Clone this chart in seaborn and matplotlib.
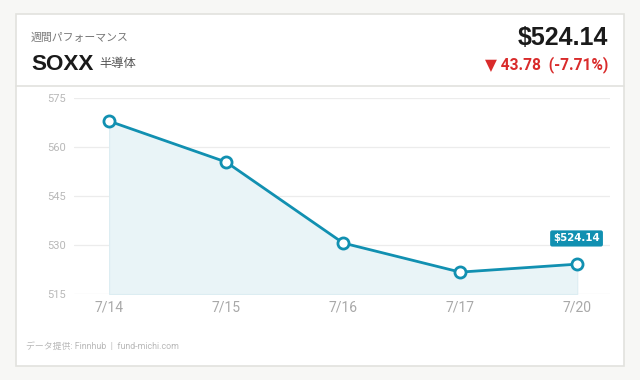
import matplotlib
matplotlib.use("Agg")
import matplotlib.pyplot as plt
from matplotlib.patches import Rectangle
from matplotlib.lines import Line2D
import seaborn as sns
import pandas as pd

dates = ["7/14", "7/15", "7/16", "7/17", "7/20"]
prices = [567.92, 555.4, 530.6, 521.7, 524.14]
y_ticks = [515, 530, 545, 560, 575]
ticker = "SOXX"
sector = "半導体"
subtitle = "週間パフォーマンス"
last_price = "$524.14"
change_text = "▼ 43.78  (-7.71%)"
footer = "データ提供: Finnhub  |  fund-michi.com"

sns.set_style("white")
plt.rcParams['font.family'] = ['Roboto', 'Noto Sans CJK JP', 'DejaVu Sans']

W, H = 640, 380
fig = plt.figure(figsize=(6.4, 3.8), dpi=100)
fig.patch.set_facecolor("#f7f7f5")

def fx(px):
    return px / W

def fy(py):
    return 1 - py / H

# card
fig.patches.append(Rectangle((fx(16), fy(366)), fx(608), (366 - 14) / H,
                             transform=fig.transFigure, facecolor="white",
                             edgecolor="#e2e2de", linewidth=1.2, zorder=-10))
fig.lines.append(Line2D([fx(16), fx(624)], [fy(86), fy(86)], transform=fig.transFigure,
                        color="#e2e2de", linewidth=1.2, zorder=-5))

teal = "#1190b1"
df = pd.DataFrame({"x": range(len(dates)), "price": prices})

ax = fig.add_axes([fx(74), fy(294), fx(610 - 74), (294 - 98) / H])
ax.set_zorder(5)
ax.set_facecolor("none")
ax.patch.set_alpha(0)
ax.fill_between(df["x"], df["price"], 515, color="#e9f4f7", edgecolor="#dcedf2",
                linewidth=0.8, zorder=1)
sns.lineplot(data=df, x="x", y="price", ax=ax, color=teal, linewidth=2.0,
             marker="o", markersize=8, markerfacecolor="white",
             markeredgecolor=teal, markeredgewidth=2.0, zorder=3)
ax.set_xlim(-0.3, 4.28)
ax.set_ylim(515, 575)
ax.set_yticks(y_ticks)
ax.set_xticks(range(len(dates)))
ax.set_xticklabels(dates)
ax.set_xlabel("")
ax.set_ylabel("")
for s in ax.spines.values():
    s.set_visible(False)
ax.grid(axis="y", color="#ececec", linewidth=0.9)
ax.grid(axis="x", visible=False)
ax.set_axisbelow(True)
ax.tick_params(axis="y", length=0, pad=6, labelsize=8, labelcolor="#b8b8b8")
ax.tick_params(axis="x", length=0, pad=5, labelsize=10, labelcolor="#a8a8a8")

# last price badge
ax.annotate(last_price, xy=(4, prices[-1]), xytext=(-0.5, 18.5), textcoords="offset points",
            ha="center", va="center", fontsize=7.4, fontweight="bold", color="white",
            family=["DejaVu Sans"],
            bbox=dict(boxstyle="round,pad=0.3,rounding_size=0.2", fc=teal, ec="none"))

# header texts
fig.text(fx(31), fy(38), subtitle, fontsize=7.8, color="#777777", va="center", ha="left",
         family=["Noto Sans CJK JP"])
fig.text(fx(31), fy(64), ticker, fontsize=16.2, fontweight="bold", color="#1a1a1a",
         va="center", ha="left", family=["Liberation Sans"])
fig.text(fx(99), fy(63), sector, fontsize=8.8, color="#555555", va="center", ha="left",
         family=["Noto Sans CJK JP"])
fig.text(fx(608), fy(38), last_price, fontsize=18, fontweight="bold", color="#1a1a1a",
         va="center", ha="right", family=["Liberation Sans"])
fig.text(fx(608), fy(65), change_text, fontsize=11.2, fontweight="bold", color="#d92b2b",
         va="center", ha="right", family=["Roboto", "DejaVu Sans"])
fig.text(fx(26), fy(347), footer, fontsize=6.4, color="#b8b8b8", va="center", ha="left",
         family=["Roboto", "Noto Sans CJK JP"])

fig.savefig("out.png", dpi=100, facecolor=fig.get_facecolor())
